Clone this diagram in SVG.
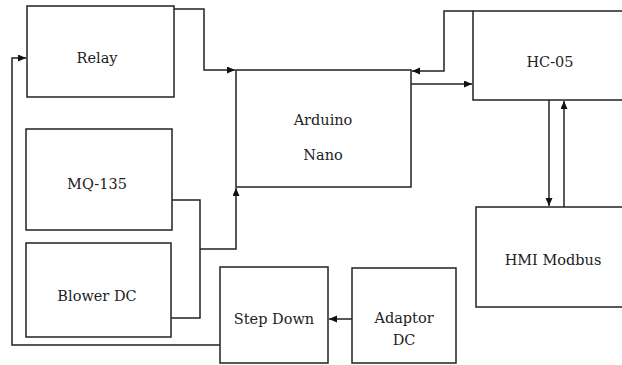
<svg xmlns="http://www.w3.org/2000/svg" width="622" height="365" viewBox="0 0 622 365">
<style>
.box{fill:#fff;stroke:#222;stroke-width:1.5}
.ln{fill:none;stroke:#222;stroke-width:1.5}
.arr{marker-end:url(#ah)}
text{font-family:"DejaVu Serif","Liberation Serif",serif;font-size:14.5px;fill:#222;text-anchor:middle}
</style>
<defs>
<marker id="ah" markerUnits="userSpaceOnUse" markerWidth="9" markerHeight="8" refX="8" refY="3.5" orient="auto">
<path d="M0,0 L8,3.5 L0,7 z" fill="#111"/>
</marker>
</defs>
<rect width="622" height="365" fill="#fff"/>
<g id="relay"><rect class="box" x="27" y="6" width="147" height="91"/><text x="97" y="63">Relay</text></g>
<g id="arduino"><rect class="box" x="236" y="70" width="175" height="117"/><text x="323" y="125">Arduino</text><text x="323" y="160">Nano</text></g>
<g id="hc05"><rect class="box" x="473" y="11" width="160" height="89"/><text x="550" y="67">HC-05</text></g>
<g id="mq135"><rect class="box" x="26" y="129" width="146" height="101"/><text x="97" y="189">MQ-135</text></g>
<g id="blower"><rect class="box" x="26" y="243" width="145" height="94"/><text x="97" y="301">Blower DC</text></g>
<g id="hmi"><rect class="box" x="476" y="207" width="160" height="100"/><text x="553" y="265">HMI Modbus</text></g>
<g id="stepdown"><rect class="box" x="220" y="267" width="108" height="96"/><text x="274" y="324">Step Down</text></g>
<g id="adaptor"><rect class="box" x="352" y="268" width="104" height="95"/><text x="404" y="323">Adaptor</text><text x="404" y="345">DC</text></g>
<g id="connectors">
<path class="ln arr" d="M174,9 H204 V70 H235"/>
<path class="ln arr" d="M473,11 H444 V71 H412"/>
<path class="ln arr" d="M411,84 H472"/>
<path class="ln arr" d="M549,100 V206"/>
<path class="ln arr" d="M564,207 V101"/>
<path class="ln" d="M172,200 H200 V318 H171"/>
<path class="ln arr" d="M200,249 H236 V188"/>
<path class="ln arr" d="M352,319 H329"/>
<path class="ln arr" d="M220,345 H12 V58 H26"/>
</g>
</svg>
